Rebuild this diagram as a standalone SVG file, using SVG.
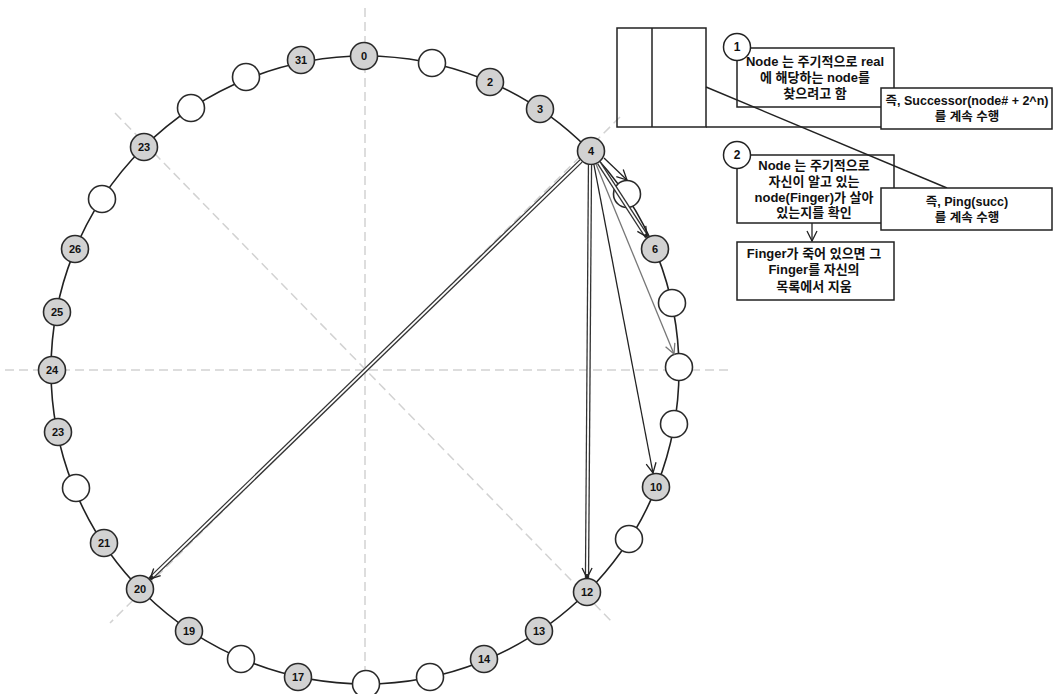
<svg xmlns="http://www.w3.org/2000/svg" width="1054" height="694" viewBox="0 0 1054 694">
<style>
.guide{stroke:#d2d2d2;stroke-width:1.5;stroke-dasharray:9 5;fill:none}
.ring{fill:none;stroke:#222;stroke-width:1.6}
.nf{fill:#d2d2d2;stroke:#2a2a2a;stroke-width:1.6}
.ne{fill:#fff;stroke:#2a2a2a;stroke-width:1.6}
.nl{font-family:"Liberation Sans",Arial,sans-serif;font-weight:bold;font-size:11px;fill:#111;text-anchor:middle}
.outer{fill:none;stroke:#333;stroke-width:4.4}
.inner{fill:none;stroke:#fff;stroke-width:1.8}
.single{fill:none;stroke:#222;stroke-width:1.3}
.box{fill:#fff;stroke:#222;stroke-width:1.5}
.plain{fill:none;stroke:#222;stroke-width:1.5}
.bt{font-family:"Liberation Sans","Noto Sans CJK KR",sans-serif;font-weight:bold;font-size:13px;fill:#111;text-anchor:middle}
.bs{font-family:"Liberation Sans","Noto Sans CJK KR",sans-serif;font-weight:bold;font-size:12.5px;fill:#111;text-anchor:middle}
.num{font-family:"Liberation Sans",Arial,sans-serif;font-weight:bold;font-size:12px;fill:#111;text-anchor:middle}
</style>
<defs>
<marker id="arr" markerUnits="userSpaceOnUse" markerWidth="14" markerHeight="12" refX="10" refY="5" orient="auto" overflow="visible">
<path d="M0,0 L10,5 L0,10" fill="none" stroke="#222" stroke-width="1.3"/>
</marker>
<marker id="arrg" markerUnits="userSpaceOnUse" markerWidth="14" markerHeight="12" refX="10" refY="5" orient="auto" overflow="visible">
<path d="M0,0 L10,5 L0,10" fill="none" stroke="#777" stroke-width="1.3"/>
</marker>
</defs>
<rect width="1054" height="694" fill="#fff"/>
<g id="guides">
<line class="guide" x1="365" y1="8" x2="365" y2="690"/>
<line class="guide" x1="5" y1="370" x2="730" y2="370"/>
<line class="guide" x1="115" y1="113" x2="612" y2="622"/>
<line class="guide" x1="620" y1="117" x2="110" y2="623"/>
</g>
<g id="connectors">
<circle class="ring" cx="365" cy="370" r="314"/>
</g>
<g id="nodes">
<g id="n0"><circle class="nf" cx="364" cy="56" r="13.5"/><text class="nl" x="364" y="60">0</text></g>
<g id="n1"><circle class="ne" cx="432" cy="63" r="13.5"/></g>
<g id="n2"><circle class="nf" cx="490" cy="82" r="13.5"/><text class="nl" x="490" y="86">2</text></g>
<g id="n3"><circle class="nf" cx="540" cy="109" r="13.5"/><text class="nl" x="540" y="113">3</text></g>
<g id="n4"><circle class="nf" cx="591" cy="151" r="13.5"/><text class="nl" x="591" y="155">4</text></g>
<g id="n5"><circle class="ne" cx="627" cy="194" r="13.5"/></g>
<g id="n6"><circle class="nf" cx="655" cy="249" r="13.5"/><text class="nl" x="655" y="253">6</text></g>
<g id="n7"><circle class="ne" cx="672" cy="303" r="13.5"/></g>
<g id="n8"><circle class="ne" cx="679" cy="367" r="13.5"/></g>
<g id="n9"><circle class="ne" cx="674" cy="424" r="13.5"/></g>
<g id="n10"><circle class="nf" cx="656" cy="487" r="13.5"/><text class="nl" x="656" y="491">10</text></g>
<g id="n11"><circle class="ne" cx="629" cy="539" r="13.5"/></g>
<g id="n12"><circle class="nf" cx="587" cy="592" r="13.5"/><text class="nl" x="587" y="596">12</text></g>
<g id="n13"><circle class="nf" cx="539" cy="631" r="13.5"/><text class="nl" x="539" y="635">13</text></g>
<g id="n14"><circle class="nf" cx="484" cy="659" r="13.5"/><text class="nl" x="484" y="663">14</text></g>
<g id="n15"><circle class="ne" cx="430" cy="677" r="13.5"/></g>
<g id="n16"><circle class="ne" cx="366" cy="684" r="13.5"/></g>
<g id="n17"><circle class="nf" cx="298" cy="677" r="13.5"/><text class="nl" x="298" y="681">17</text></g>
<g id="n18"><circle class="ne" cx="241" cy="659" r="13.5"/></g>
<g id="n19"><circle class="nf" cx="189" cy="631" r="13.5"/><text class="nl" x="189" y="635">19</text></g>
<g id="n20"><circle class="nf" cx="140" cy="589" r="13.5"/><text class="nl" x="140" y="593">20</text></g>
<g id="n21"><circle class="nf" cx="104" cy="543" r="13.5"/><text class="nl" x="104" y="547">21</text></g>
<g id="n22"><circle class="ne" cx="76" cy="488" r="13.5"/></g>
<g id="n23"><circle class="nf" cx="58" cy="432" r="13.5"/><text class="nl" x="58" y="436">23</text></g>
<g id="n24"><circle class="nf" cx="52" cy="370" r="13.5"/><text class="nl" x="52" y="374">24</text></g>
<g id="n25"><circle class="nf" cx="57" cy="312" r="13.5"/><text class="nl" x="57" y="316">25</text></g>
<g id="n26"><circle class="nf" cx="75" cy="249" r="13.5"/><text class="nl" x="75" y="253">26</text></g>
<g id="n27"><circle class="ne" cx="102" cy="199" r="13.5"/></g>
<g id="n28"><circle class="nf" cx="144" cy="147" r="13.5"/><text class="nl" x="144" y="151">23</text></g>
<g id="n29"><circle class="ne" cx="191" cy="108" r="13.5"/></g>
<g id="n30"><circle class="ne" cx="246" cy="77" r="13.5"/></g>
<g id="n31"><circle class="nf" cx="301" cy="60" r="13.5"/><text class="nl" x="301" y="64">31</text></g>
</g>
<g id="fingers">
<path class="outer" d="M581,161 L150,579" marker-end="url(#arr)"/>
<path class="inner" d="M581,161 L153,576"/>
<path class="outer" d="M590,165 L587,578" marker-end="url(#arr)"/>
<path class="inner" d="M590,165 L587,574"/>
<path class="outer" d="M599,163 L647,237" marker-end="url(#arr)"/>
<path class="inner" d="M599,163 L645,234"/>
<path class="single" d="M594,165 L653,473" marker-end="url(#arr)"/>
<path class="single" d="M596,164 L674,354" style="stroke:#777" marker-end="url(#arrg)"/>
<path class="single" d="M604,158 L627,180" marker-end="url(#arr)"/>
</g>
<g id="table">
<rect class="plain" x="617" y="28" width="89" height="99"/>
<line class="plain" x1="652" y1="28" x2="652" y2="127"/>
<line class="plain" x1="706" y1="127" x2="881" y2="127"/>
</g>
<g id="box1">
<rect class="box" x="737" y="48" width="157" height="59"/>
<text class="bt" x="815" y="66">Node 는 주기적으로 real</text>
<text class="bt" x="815" y="82">에 해당하는 node를</text>
<text class="bt" x="815" y="98">찾으려고 함</text>
<circle class="box" cx="737" cy="47" r="13.5"/>
<text class="num" x="737" y="51">1</text>
</g>
<g id="box2">
<rect class="box" x="737" y="155" width="157" height="68"/>
<text class="bt" x="814" y="170">Node 는 주기적으로</text>
<text class="bt" x="814" y="186">자신이 알고 있는</text>
<text class="bt" x="814" y="202">node(Finger)가 살아</text>
<text class="bt" x="814" y="217">있는지를 확인</text>
<circle class="box" cx="737" cy="155" r="13.5"/>
<text class="num" x="737" y="159">2</text>
</g>
<g id="link">
<line class="plain" x1="706" y1="87" x2="947" y2="188"/>
<path class="single" d="M812,223 L812,241" marker-end="url(#arr)"/>
</g>
<g id="succ">
<rect class="box" x="881" y="88" width="171" height="41"/>
<text class="bs" x="967" y="105">즉, Successor(node# + 2^n)</text>
<text class="bs" x="967" y="121">를 계속 수행</text>
</g>
<g id="ping">
<rect class="box" x="881" y="188" width="171" height="42"/>
<text class="bs" x="967" y="206">즉, Ping(succ)</text>
<text class="bs" x="967" y="222">를 계속 수행</text>
</g>
<g id="box3">
<rect class="box" x="737" y="242" width="157" height="58"/>
<text class="bt" x="814" y="258">Finger가 죽어 있으면 그</text>
<text class="bt" x="814" y="274">Finger를 자신의</text>
<text class="bt" x="814" y="291">목록에서 지움</text>
</g>
</svg>
